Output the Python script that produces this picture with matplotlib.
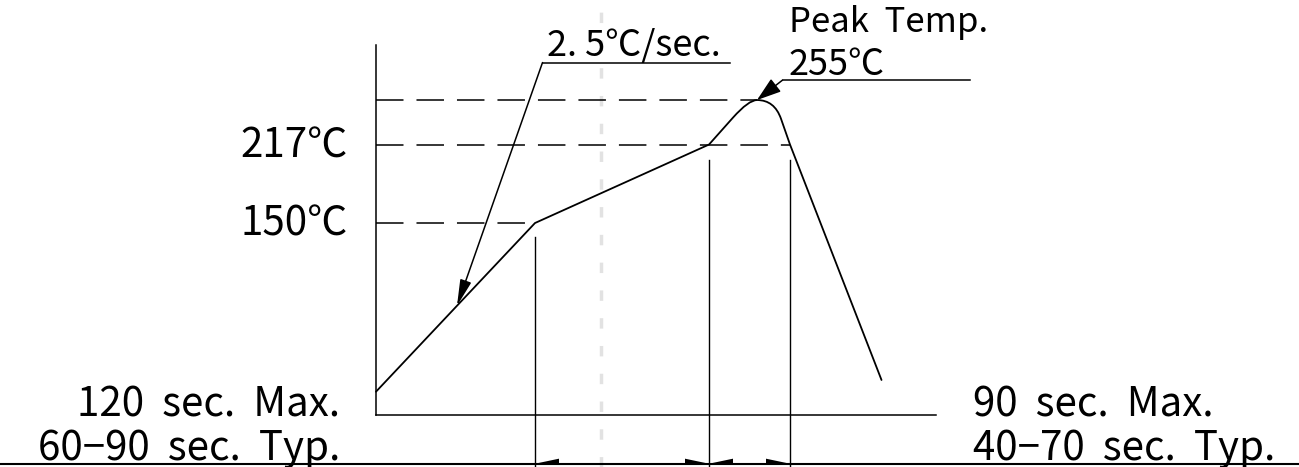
import numpy as np
import matplotlib
matplotlib.use('Agg')
import matplotlib.pyplot as plt
from matplotlib.path import Path
from matplotlib.patches import PathPatch, Polygon, Rectangle

plt.rcParams['font.family'] = ['Noto Sans CJK JP', 'DejaVu Sans']

# reflow profile (time in sec, temperature in degC)
# points 3 and 5 are the shoulders around the rounded peak (point 4)
profile_time = [0, 106, 222, 238, 254, 270, 276, 337]
profile_temp = [6, 150, 217, 240, 255, 239, 217, 16]

# dashed reference levels and where they stop
level_temps = [255, 217, 150]
level_ends = [254, 276, 106]
level_labels = ['', '217℃', '150℃']

# vertical marker lines (time, temperature of the top end)
marker_times = [106, 222, 276]
marker_tops = [138, 204, 204]

# time where the slope leader touches the ramp
ramp_tip_time = 54

slope_label = '2. 5℃/sec.'
peak_labels = ['Peak  Temp.', '255℃']
left_notes = ['120  sec.  Max.', '60−90  sec.  Typ.']
right_notes = ['90  sec.  Max.', '40−70  sec.  Typ.']


def hit_level(p1, p2, level):
    # time where line p1-p2 reaches a given temperature
    return p1[0] + (level - p1[1]) * (p2[0] - p1[0]) / (p2[1] - p1[1])


fig = plt.figure(figsize=(12.99, 4.67), dpi=100)
ax = fig.add_axes([0, 0, 1, 1])
ax.set_xlim(-250.67, 615.33)
ax.set_ylim(-58.3, 340.4)
ax.axis('off')

base = -14      # time axis level
floor = -55.5   # bottom dimension line

# faint scan streak
ax.axvline(150, color='#e2e2e2', lw=2.5, ls=(0, (3, 5)), zorder=0)

# axes of the diagram
ax.plot([0, 0], [302, base], color='black', lw=1.1)
ax.plot([0, 373], [base, base], color='black', lw=1.1)
ax.axhline(floor, color='black', lw=1.5)

# dashed temperature levels + labels
for temp, end, lab in zip(level_temps, level_ends, level_labels):
    ax.plot([0, end], [temp, temp], color='black', lw=1.1, ls=(0, (18, 8.5)))
    if lab:
        ax.text(-19, temp - 11, lab, fontsize=29, ha='right', va='baseline')

# profile curve with a rounded peak
pts = list(zip(profile_time, profile_temp))
peak = pts[4]
c_left = (hit_level(pts[2], pts[3], peak[1]), peak[1])
c_right = (hit_level(pts[6], pts[5], peak[1]), peak[1])
verts = [pts[0], pts[1], pts[2], pts[3], c_left, peak, c_right, pts[5],
         pts[6], pts[7]]
codes = [Path.MOVETO, Path.LINETO, Path.LINETO, Path.LINETO,
         Path.CURVE3, Path.CURVE3, Path.CURVE3, Path.CURVE3,
         Path.LINETO, Path.LINETO]
ax.add_patch(PathPatch(Path(verts, codes), fill=False, lw=1.3,
                       edgecolor='black', capstyle='round', joinstyle='round'))

# vertical markers down to the bottom
for t, top in zip(marker_times, marker_tops):
    ax.plot([t, t], [top, -60], color='black', lw=1.0)

# half arrowheads on the bottom dimension line
head_len, head_h = 16, 4.3
for a, b in zip(marker_times[:-1], marker_times[1:]):
    ax.add_patch(Polygon([(a, floor), (a + head_len, floor + head_h),
                          (a + head_len, floor)], color='black', lw=0))
    ax.add_patch(Polygon([(b, floor), (b - head_len, floor + head_h),
                          (b - head_len, floor)], color='black', lw=0))

# slope leader
tip_temp = np.interp(ramp_tip_time, profile_time[:2], profile_temp[:2])
elbow = (111, 287)
ax.annotate('', xy=(ramp_tip_time, tip_temp), xytext=elbow,
            arrowprops=dict(arrowstyle='-|>,head_length=1.6,head_width=0.35',
                            color='black', lw=1.1, shrinkA=0, shrinkB=0))
ax.plot([elbow[0], 236], [elbow[1], elbow[1]], color='black', lw=1.1)
ax.text(elbow[0] + 3, 293, slope_label, fontsize=26, ha='left', va='baseline')

# peak leader
start = (271, 272)
ax.annotate('', xy=peak, xytext=start,
            arrowprops=dict(arrowstyle='-|>,head_length=1.5,head_width=0.5',
                            color='black', lw=1.1, shrinkA=0, shrinkB=0))
ax.plot([start[0], 396], [start[1], start[1]], color='black', lw=1.1)
t1 = ax.text(275, 313, peak_labels[0], fontsize=25, ha='left', va='baseline')
t1.set_clip_path(Rectangle((0, 0), 1, 1 - 14 / 467, transform=ax.transAxes))
ax.text(275, 276, peak_labels[1], fontsize=26, ha='left', va='baseline')

# time notes
for note, y in zip(left_notes, [-15.6, -52.3]):
    ax.text(-24, y, note, fontsize=29, ha='right', va='baseline')
for note, y in zip(right_notes, [-15.6, -52.3]):
    ax.text(398, y, note, fontsize=29, ha='left', va='baseline')

fig.savefig('out.png', dpi=100, facecolor='white')
